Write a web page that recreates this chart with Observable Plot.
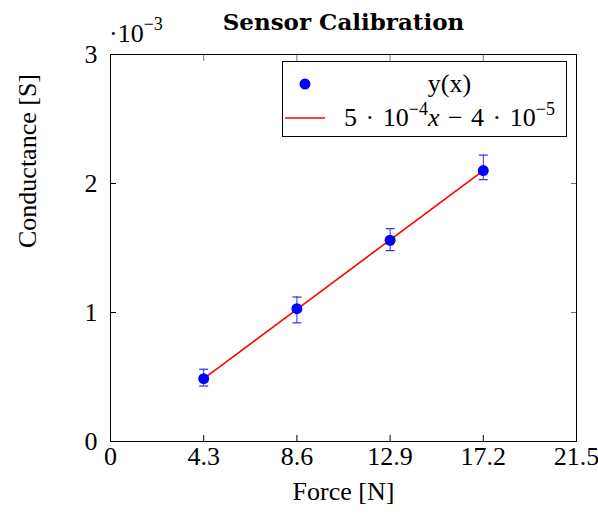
<!DOCTYPE html>
<html><head><meta charset="utf-8">
<script src="https://cdn.jsdelivr.net/npm/d3@7"></script>
<script src="https://cdn.jsdelivr.net/npm/@observablehq/plot@0.6"></script>
<style>
body{margin:0;background:#fff;}
#wrap{position:relative;width:598px;height:514px;font-family:"Liberation Serif",serif;color:#000;}
#wrap svg{position:absolute;left:0;top:0;}
#legend{position:absolute;left:282px;top:61px;width:285px;height:76px;border:1px solid #000;box-sizing:border-box;background:#fff;font-size:26px;}
.row{position:absolute;left:0;width:100%;height:34px;}
.row .sym{position:absolute;left:7px;top:0;width:44px;height:34px;}
.row .lab{position:absolute;left:54px;right:4px;top:0;height:34px;line-height:34px;text-align:center;white-space:nowrap;word-spacing:2px;}
sup{font-size:18px;vertical-align:0;position:relative;top:-11px;}
#exp{position:absolute;left:109px;top:19px;font-size:26px;line-height:30px;}
#exp sup{top:-12px;}
</style></head>
<body><div id="wrap"></div>
<script>
const title = "Sensor Calibration";
const xLabel = "Force [N]";
const yLabel = "Conductance [S]";
const xTicks = [0, 4.3, 8.6, 12.9, 17.2, 21.5];
const yTicks = [0, 0.001, 0.002, 0.003];
const force = [4.3, 8.6, 12.9, 17.2];
const conductance = [0.000487, 0.00103, 0.00156, 0.00210];
const condLow = [0.00043, 0.00092, 0.00148, 0.00203];
const condHigh = [0.00056, 0.00112, 0.00165, 0.00222];
const fitX = [4.3, 17.2];
const fitY = [0.000488, 0.00210];
const legendPoints = "y(x)";

const pts = force.map((f, i) => ({x: f, y: conductance[i], lo: condLow[i], hi: condHigh[i]}));
const fit = fitX.map((f, i) => ({x: f, y: fitY[i]}));
const hbar = {draw(ctx, size) { const r = Math.sqrt(size / Math.PI); ctx.moveTo(-r, 0); ctx.lineTo(r, 0); }};
const blank = () => "";

const plot = Plot.plot({
  width: 598, height: 514,
  marginLeft: 110, marginRight: 22, marginTop: 54, marginBottom: 73,
  style: {fontFamily: "'Liberation Serif', serif", fontSize: "26px", color: "#000", background: "transparent", overflow: "visible"},
  x: {domain: [0, 21.5]},
  y: {domain: [0, 0.003]},
  marks: [
    // labels
    Plot.axisX(xTicks, {anchor: "bottom", tickSize: 0, tickPadding: 5, tickFormat: d => String(d), label: null, fill: "#000", fontSize: 26}),
    Plot.axisY(yTicks, {anchor: "left", tickSize: 0, tickPadding: 13, tickFormat: d => String(Math.round(d * 1000)), label: null, fill: "#000", fontSize: 26}),
    // inward ticks
    Plot.axisX(xTicks, {anchor: "bottom", tickSize: 6, dy: -6, tickFormat: blank, label: null, stroke: "#000"}),
    Plot.axisX(xTicks, {anchor: "top", tickSize: 6, dy: 6, tickFormat: blank, label: null, stroke: "#000", strokeOpacity: 0.55}),
    Plot.axisY(yTicks, {anchor: "left", tickSize: 6, dx: 6, tickFormat: blank, label: null, stroke: "#000"}),
    Plot.axisY(yTicks, {anchor: "right", tickSize: 6, dx: -6, tickFormat: blank, label: null, stroke: "#000", strokeOpacity: 0.55}),
    Plot.frame({stroke: "#000", strokeWidth: 1}),
    Plot.line(fit, {x: "x", y: "y", stroke: "#ff0000", strokeWidth: 1.6}),
    Plot.ruleX(pts, {x: "x", y1: "lo", y2: "hi", stroke: "#2a2aff", strokeWidth: 1}),
    Plot.dot(pts, {x: "x", y: "lo", symbol: hbar, r: 4.5, stroke: "#2a2aff", strokeWidth: 1.2}),
    Plot.dot(pts, {x: "x", y: "hi", symbol: hbar, r: 4.5, stroke: "#2a2aff", strokeWidth: 1.2}),
    Plot.dot(pts, {x: "x", y: "y", r: 5.5, fill: "#0000ff", stroke: null}),
    Plot.text([title], {text: d => d, frameAnchor: "top", dy: -25, lineAnchor: "bottom", fontWeight: "bold", fontSize: 23, fontFamily: "'DejaVu Serif', serif", fill: "#000"}),
    Plot.text([xLabel], {text: d => d, frameAnchor: "bottom", dy: 58, fontSize: 26, fill: "#000"}),
    Plot.text([yLabel], {text: d => d, frameAnchor: "left", dx: -83, rotate: -90, fontSize: 26, fill: "#000"})
  ]
});
const wrap = document.getElementById("wrap");
wrap.appendChild(plot);

const exp = document.createElement("div");
exp.id = "exp";
exp.innerHTML = "·10<sup>−3</sup>";
wrap.appendChild(exp);

const legend = document.createElement("div");
legend.id = "legend";
legend.innerHTML =
  `<div class="row" style="top:5px"><svg class="sym" width="44" height="34"><circle cx="22" cy="17" r="5.5" fill="#0000ff"/></svg><div class="lab">${legendPoints}</div></div>` +
  `<div class="row" style="top:39px"><svg class="sym" width="44" height="34"><line x1="2" x2="42" y1="17" y2="17" stroke="#ff0000" stroke-width="1.6"/></svg><div class="lab">5 · 10<sup>−4</sup><i>x</i> − 4 · 10<sup>−5</sup></div></div>`;
wrap.appendChild(legend);
</script>
</body></html>
